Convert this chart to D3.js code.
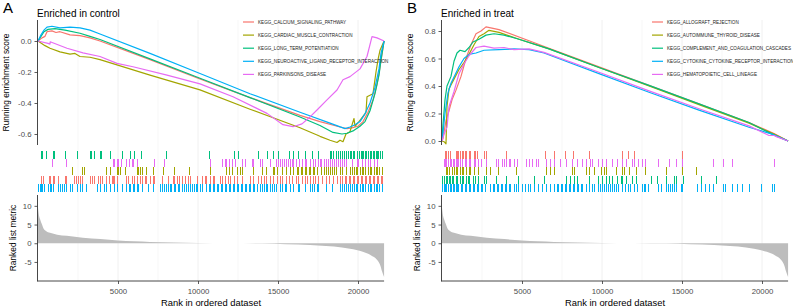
<!DOCTYPE html>
<html><head><meta charset="utf-8">
<script src="https://cdn.jsdelivr.net/npm/d3@7"></script>
<style>body{margin:0;background:#fff} svg{display:block} text{font-family:"Liberation Sans",Arial,Helvetica,sans-serif}</style>
</head><body>
<svg id="c" width="793" height="307"></svg>
<script>
// ---------- shared ----------
const rankMax = 21630;
const xTicks = [5000, 10000, 15000, 20000];
const gridRanks = [2500, 5000, 7500, 10000, 12500, 15000, 17500, 20000];
const metricTicks = [-5, 0, 5, 10];
const colors = ["#F8766D", "#A3A500", "#00BF7D", "#00B0F6", "#E76BF3"];

// ranked list metric (same ranked dataset in both panels)
const metricRank  = [1, 60, 125, 250, 330, 500, 750, 1200, 1800, 2800, 3900, 5000, 6000, 7000, 8500, 10000, 12000, 14000, 15500, 17000, 18500, 19500, 20300, 20800, 21200, 21400, 21500, 21630];
const metricValue = [9.5, 7.5, 6.5, 5, 4.1, 3.3, 2.8, 2.3, 2.0, 1.5, 1.1, 0.75, 0.5, 0.35, 0.2, 0.08, 0, -0.1, -0.25, -0.45, -0.9, -1.5, -2.3, -3.2, -4.5, -6, -7.5, -9];

// ---------- panel A : Enriched in control ----------
const aNames = ["KEGG_CALCIUM_SIGNALING_PATHWAY", "KEGG_CARDIAC_MUSCLE_CONTRACTION", "KEGG_LONG_TERM_POTENTIATION", "KEGG_NEUROACTIVE_LIGAND_RECEPTOR_INTERACTION", "KEGG_PARKINSONS_DISEASE"];
const aEsTicks = [-0.6, -0.4, -0.2, 0.0];
const aRugOrder = [2, 4, 1, 0, 3];

const aCalciumRank = [1, 250, 438, 562, 875, 1125, 1375, 2000, 2625, 3250, 3875, 7000, 10125, 13250, 16375, 17625, 18875, 19312, 19625, 20000, 20312, 20625, 20938, 21188, 21375, 21630];
const aCalciumES   = [0, 0.02, 0.03, 0.06, 0.065, 0.055, 0.06, 0.04, 0.035, 0.02, 0.0, -0.12, -0.245, -0.365, -0.48, -0.52, -0.555, -0.565, -0.56, -0.55, -0.52, -0.46, -0.38, -0.28, -0.17, 0.0];
const aCardiacRank = [1, 438, 750, 1375, 2000, 2312, 2625, 3250, 3875, 7000, 10125, 13250, 16375, 17625, 18250, 18688, 18875, 19062, 19250, 19500, 19750, 19812, 20062, 20500, 20562, 20938, 21125, 21250, 21375, 21630];
const aCardiacES   = [0, -0.03, -0.047, -0.07, -0.085, -0.08, -0.1, -0.105, -0.12, -0.22, -0.315, -0.44, -0.56, -0.615, -0.64, -0.655, -0.64, -0.65, -0.6, -0.585, -0.5, -0.55, -0.52, -0.46, -0.36, -0.34, -0.2, -0.12, -0.06, 0];
const aLongRank = [1, 188, 375, 625, 1062, 1688, 2625, 3250, 3875, 7000, 10125, 13250, 16375, 17625, 18438, 19000, 19312, 19688, 20125, 20438, 20750, 21062, 21312, 21438, 21630];
const aLongES   = [0, 0.03, 0.06, 0.075, 0.08, 0.07, 0.05, 0.03, 0.01, -0.115, -0.24, -0.365, -0.49, -0.545, -0.59, -0.6, -0.595, -0.58, -0.55, -0.52, -0.45, -0.34, -0.22, -0.12, 0];
const aNeuroRank = [1, 188, 375, 562, 875, 1375, 2000, 2625, 3250, 3875, 7000, 10125, 13250, 16375, 18250, 19188, 19500, 19812, 20125, 20438, 20750, 21062, 21312, 21438, 21630];
const aNeuroES   = [0, 0.04, 0.07, 0.09, 0.095, 0.085, 0.09, 0.085, 0.07, 0.045, -0.08, -0.21, -0.34, -0.46, -0.53, -0.565, -0.555, -0.54, -0.52, -0.47, -0.4, -0.3, -0.18, -0.08, 0];
const aParkRank = [1, 625, 750, 760, 1812, 2812, 3875, 4938, 5938, 8062, 10125, 12188, 14312, 15312, 15938, 16500, 17000, 17438, 18062, 18688, 19062, 19500, 20125, 20562, 20875, 21188, 21630];
const aParkES   = [0, -0.015, -0.02, -0.005, -0.047, -0.077, -0.1, -0.144, -0.166, -0.22, -0.277, -0.36, -0.467, -0.54, -0.553, -0.535, -0.49, -0.445, -0.38, -0.316, -0.25, -0.23, -0.18, -0.1, 0.028, 0.02, 0];

const aCalciumHits = [231, 331, 688, 812, 938, 1062, 1250, 1688, 1812, 2250, 2375, 2500, 2625, 2812, 3250, 3375, 3562, 3750, 3875, 4062, 4312, 4438, 4625, 4688, 4812, 4938, 5500, 5625, 5875, 6062, 6188, 6375, 6562, 6688, 6812, 7062, 7188, 7312, 7812, 8125, 8438, 8562, 8688, 8875, 9000, 9188, 9375, 9500, 9938, 10250, 10438, 10562, 10750, 10938, 11062, 11375, 11562, 11688, 11875, 12062, 12250, 12438, 12812, 13250, 13438, 13750, 13938, 14125, 14312, 14500, 14688, 14938, 15125, 15312, 15500, 15688, 15875, 16125, 16312, 16500, 16688, 16875, 17000, 17188, 17375, 17500, 17812, 18000, 18188, 18438, 18688, 18875, 19062, 19188, 19312, 19438, 19562, 19688, 19812, 19938, 20062, 20188, 20312, 20438, 20562, 20688, 20812, 20938, 21062, 21188, 21312, 21438, 21562];
const aCardiacHits = [2169, 2794, 2875, 4250, 4500, 4938, 5062, 5125, 5438, 6188, 6312, 6375, 6544, 6794, 7206, 7831, 8562, 9456, 10750, 11812, 11938, 12125, 12438, 12625, 12812, 13438, 14062, 14312, 14688, 14812, 14938, 15250, 15562, 15750, 15938, 16188, 16312, 16438, 16562, 16688, 16812, 16938, 17062, 17188, 17312, 17438, 17750, 17875, 18000, 18125, 18250, 18375, 18500, 18625, 18875, 19062, 19312, 19500, 19625, 19750, 19875, 20000, 20125, 20250, 20375, 20500, 20625, 20750, 20875, 21000, 21125, 21250, 21375, 21500];
const aLongHits = [188, 294, 544, 956, 1062, 1688, 2456, 3250, 3356, 3519, 3875, 3981, 4500, 5294, 5812, 6062, 6481, 8000, 10688, 12312, 12562, 13812, 14375, 14688, 15000, 15688, 15938, 16312, 16750, 17125, 17500, 18250, 18344, 18438, 18625, 18750, 18875, 19000, 19125, 19250, 19375, 19500, 19594, 19688, 19812, 19938, 20000, 20094, 20188, 20281, 20375, 20469, 20562, 20656, 20750, 20844, 20938, 21031, 21125, 21219, 21312, 21406, 21500];
const aNeuroHits = [31, 125, 219, 312, 406, 625, 750, 875, 1000, 1250, 1375, 1500, 1625, 1750, 2000, 2125, 2438, 2625, 2812, 3062, 3688, 3875, 4125, 4312, 4500, 4812, 5000, 5312, 5562, 5688, 5812, 5938, 6062, 6188, 6312, 6562, 6875, 7188, 7625, 7750, 7875, 8000, 8125, 8250, 8375, 8500, 8625, 8750, 8875, 9000, 9125, 9250, 9375, 9500, 9625, 9750, 9875, 10000, 10125, 10312, 10500, 10688, 10812, 10938, 11062, 11188, 11312, 11438, 11562, 11688, 11812, 11938, 12062, 12188, 12312, 12438, 12562, 12688, 12812, 12938, 13062, 13188, 13312, 13438, 13562, 13688, 13875, 14000, 14125, 14250, 14375, 14500, 14625, 14750, 14875, 15125, 15250, 15438, 15562, 15750, 16000, 16250, 16375, 16750, 17000, 17125, 17312, 17438, 17562, 18062, 18375, 18875, 19000, 19125, 19250, 19375, 19500, 19625, 19750, 19875, 20000, 20125, 20250, 20375, 20500, 20625, 20750, 20875, 21000, 21125, 21250, 21375, 21500];
const aParkHits = [919, 1794, 4688, 4812, 4938, 5062, 5188, 5562, 5688, 5875, 5938, 6231, 7250, 7894, 10750, 11562, 11688, 11812, 11938, 12125, 12375, 12750, 12938, 13375, 13500, 13875, 14062, 14500, 14875, 15000, 15125, 15250, 15375, 15500, 15625, 15750, 15875, 16000, 16125, 16375, 16500, 16688, 16812, 17000, 17188, 17375, 17500, 17625, 17750, 17875, 18000, 18125, 18250, 18375, 18500, 18625, 18750, 18875, 19000, 19125, 19312, 19625, 19938, 20062, 20250, 20438, 20625, 20812, 21000, 21250];

// ---------- panel B : Enriched in treat ----------
const bNames = ["KEGG_ALLOGRAFT_REJECTION", "KEGG_AUTOIMMUNE_THYROID_DISEASE", "KEGG_COMPLEMENT_AND_COAGULATION_CASCADES", "KEGG_CYTOKINE_CYTOKINE_RECEPTOR_INTERACTION", "KEGG_HEMATOPOIETIC_CELL_LINEAGE"];
const bEsTicks = [0.0, 0.2, 0.4, 0.6, 0.8];
const bRugOrder = [0, 4, 1, 2, 3];

const bAlloRank = [1, 62, 250, 438, 625, 875, 1188, 1500, 1812, 2125, 2438, 2750, 3562, 6688, 9812, 12938, 16062, 19188, 20750, 21630];
const bAlloES   = [0, 0.02, 0.15, 0.22, 0.3, 0.37, 0.47, 0.6, 0.7, 0.78, 0.8, 0.83, 0.81, 0.675, 0.54, 0.405, 0.27, 0.135, 0.055, 0];
const bAutoRank = [1, 125, 250, 312, 438, 750, 1062, 1375, 1688, 2000, 2312, 2625, 2938, 3562, 4812, 6688, 9812, 12938, 16062, 19188, 20750, 21630];
const bAutoES   = [0, -0.005, -0.02, 0.25, 0.38, 0.45, 0.52, 0.57, 0.63, 0.7, 0.76, 0.78, 0.805, 0.79, 0.74, 0.67, 0.535, 0.4, 0.265, 0.13, 0.05, 0];
const bCompRank = [1, 62, 188, 312, 562, 750, 938, 1125, 1438, 1688, 1938, 2312, 2750, 3250, 3875, 4812, 6688, 9812, 12938, 16062, 19188, 20625, 21630];
const bCompES   = [0, 0.12, 0.3, 0.4, 0.47, 0.58, 0.64, 0.66, 0.65, 0.68, 0.72, 0.74, 0.77, 0.78, 0.77, 0.74, 0.67, 0.535, 0.405, 0.27, 0.135, 0.05, 0];
const bCytoRank = [1, 62, 188, 375, 562, 812, 1062, 1375, 1688, 2125, 2625, 3562, 4500, 5438, 6375, 9812, 12938, 16062, 19188, 20625, 21630];
const bCytoES   = [0, 0.06, 0.2, 0.35, 0.42, 0.48, 0.54, 0.6, 0.63, 0.64, 0.66, 0.665, 0.67, 0.665, 0.64, 0.49, 0.355, 0.225, 0.1, 0.05, 0];
const bHemaRank = [1, 125, 312, 438, 750, 1062, 1375, 1688, 2125, 2625, 3250, 3875, 4500, 5438, 6375, 9812, 12938, 16062, 19188, 20438, 20750, 20938, 21630];
const bHemaES   = [0, 0.05, 0.1, 0.25, 0.36, 0.49, 0.56, 0.62, 0.68, 0.69, 0.675, 0.68, 0.665, 0.67, 0.645, 0.5, 0.365, 0.235, 0.11, 0.04, 0.04, 0.03, 0];

const bAlloHits = [231, 312, 406, 500, 875, 969, 1062, 1156, 1250, 1344, 1438, 1562, 1688, 1812, 2000, 2094, 2188, 2625, 2750, 4062, 6438, 7000, 7688, 8188, 9188, 11250, 11625, 12000, 15000];
const bAutoHits = [250, 344, 438, 625, 750, 875, 1000, 1125, 1250, 1375, 1500, 1688, 1812, 2000, 2312, 2750, 3062, 3562, 4625, 6500, 6812, 7000, 8125, 8250, 9000, 9188, 9500, 9938, 10125, 10312, 10875, 11250, 11375, 11688, 12125, 12750, 14062, 15000, 15875];
const bCompHits = [62, 156, 250, 344, 438, 531, 625, 719, 875, 1000, 1125, 1250, 1375, 1500, 1625, 1750, 1938, 2125, 2312, 2625, 2812, 3375, 4000, 4812, 5750, 6375, 7812, 8062, 8250, 8438, 9188, 9812, 10000, 10250, 10438, 10625, 10938, 11188, 11312, 11500, 11875, 12125, 13125, 13500, 14062, 14500, 14625, 15125, 16188, 17125];
const bCytoHits = [10, 31, 125, 219, 312, 406, 500, 594, 688, 781, 875, 969, 1062, 1188, 1312, 1438, 1562, 1688, 1812, 1938, 2062, 2188, 2312, 2438, 2562, 2688, 3062, 3188, 3312, 3438, 3562, 3688, 3812, 3938, 4062, 4188, 4312, 4500, 4625, 4750, 5062, 5188, 5375, 5562, 5812, 6000, 6312, 6500, 6812, 7000, 7188, 7312, 7438, 7562, 7688, 7812, 7938, 8062, 8188, 8312, 8438, 8562, 8688, 8812, 9000, 9188, 9375, 9562, 9750, 9875, 10000, 10125, 10250, 10375, 10500, 10625, 10750, 10875, 11000, 11312, 11438, 11625, 11750, 12062, 12188, 12500, 12625, 12750, 12875, 13562, 13688, 14000, 14125, 14250, 14375, 14500, 14625, 14938, 15062, 15938, 16188, 16438, 16688, 17000, 17625, 17750, 18125, 18438, 18750, 19188, 20000, 20625, 20812];
const bHemaHits = [125, 219, 312, 406, 500, 594, 688, 781, 875, 969, 1062, 1156, 1312, 1438, 1562, 1688, 1812, 2000, 2125, 2312, 2500, 2812, 3375, 3500, 3750, 3875, 4000, 4188, 4312, 4500, 4688, 5250, 5438, 5625, 5875, 6062, 6500, 6812, 7000, 7375, 7750, 8125, 8438, 8750, 9062, 9250, 9375, 9812, 10000, 10250, 10625, 10938, 11250, 11562, 11875, 12062, 12250, 12500, 12750, 13562, 14188, 14625, 15000, 17000, 17625, 18125, 20750];

// ---------- drawing ----------
const svg = d3.select("#c");
const fmt1 = d => d.toFixed(1);

function drawPanel(p) {
  const g = svg.append("g");
  const x = d3.scaleLinear().domain([0, rankMax]).range([p.x0, p.x1]);
  const yES = d3.scaleLinear().domain(p.esDomain).range([145, 20]);
  const yM = d3.scaleLinear().domain([-10.1, 12.9]).range([281, 195]);

  // vertical grid
  g.append("g").selectAll("line").data(gridRanks).join("line")
    .attr("x1", d => x(d)).attr("x2", d => x(d)).attr("y1", 20).attr("y2", 281)
    .attr("stroke", "#ececec").attr("stroke-width", d => d % 5000 === 0 ? 0.8 : 0.5);

  // metric area
  const mData = metricRank.map((r, i) => [r, metricValue[i]]);
  g.append("path").datum(mData)
    .attr("d", d3.area().x(d => x(d[0])).y0(yM(0)).y1(d => yM(d[1])).curve(d3.curveMonotoneX))
    .attr("fill", "#bdbdbd");

  // rug
  p.rugOrder.forEach((si, row) => {
    const y0 = Math.round(150.5 + row * 8.45);
    g.append("g").attr("shape-rendering", "crispEdges").selectAll("line").data(p.hits[si]).join("line")
      .attr("x1", d => Math.floor(x(d)) + 0.5).attr("x2", d => Math.floor(x(d)) + 0.5)
      .attr("y1", y0).attr("y2", y0 + 8)
      .attr("stroke", colors[si]).attr("stroke-width", 1);
  });

  // ES lines
  const line = d3.line().x(d => x(d[0])).y(d => yES(d[1]));
  p.ranks.forEach((rk, si) => {
    g.append("path").datum(rk.map((r, i) => [r, p.es[si][i]]))
      .attr("d", line).attr("fill", "none").attr("stroke", colors[si])
      .attr("stroke-width", 1.2).attr("stroke-linejoin", "round");
  });

  // axes
  const axES = g.append("g").attr("transform", `translate(${p.x0 - 0.5},0)`)
    .call(d3.axisLeft(yES).tickValues(p.esTicks).tickFormat(fmt1).tickSize(3).tickSizeOuter(0));
  axES.select(".domain").attr("d", "M0,20V145");
  const axM = g.append("g").attr("transform", `translate(${p.x0 - 0.5},0)`)
    .call(d3.axisLeft(yM).tickValues(metricTicks).tickFormat(d => String(d)).tickSize(3).tickSizeOuter(0));
  axM.select(".domain").attr("d", "M0,195V281.5");
  const axX = g.append("g").attr("transform", "translate(0,281)")
    .call(d3.axisBottom(x).tickValues(xTicks).tickFormat(d => String(d)).tickSize(3).tickSizeOuter(0));
  axX.select(".domain").attr("d", `M${p.x0 - 0.5},0H${p.x1}`);
  [axES, axM, axX].forEach(a => {
    a.selectAll(".domain").attr("stroke", "#333").attr("stroke-width", 0.9);
    a.selectAll(".tick line").attr("stroke", "#333").attr("stroke-width", 0.8);
    a.selectAll(".tick text").attr("fill", "#4d4d4d").style("font-size", "7.8px").style("font-family", "'Liberation Sans',Arial,sans-serif");
  });
  axX.selectAll(".tick text").attr("dy", "0.95em");

  // titles
  g.append("text").attr("x", p.x0 - 35).attr("y", 13.3).text(p.letter).style("font-size", "15px");
  g.append("text").attr("x", p.x0 - 1).attr("y", 16.5).text(p.title).style("font-size", "10px");
  g.append("text").attr("transform", `translate(${p.x0 - 29},82.5) rotate(-90)`).attr("text-anchor", "middle")
    .text("Running enrichment score").style("font-size", "8.4px");
  g.append("text").attr("transform", `translate(${p.x0 - 22},238) rotate(-90)`).attr("text-anchor", "middle")
    .text("Ranked list metric").style("font-size", "8.4px");
  g.append("text").attr("x", (p.x0 + p.x1) / 2).attr("y", 306).attr("text-anchor", "middle")
    .text("Rank in ordered dataset").style("font-size", "9.4px");

  // legend
  p.names.forEach((nm, i) => {
    const ly = 22 + i * 13.1;
    g.append("line").attr("x1", p.legX).attr("x2", p.legX + 11).attr("y1", ly).attr("y2", ly)
      .attr("stroke", colors[i]).attr("stroke-width", 1.2);
    g.append("text").attr("x", p.legX + 15).attr("y", ly + 1.7).text(nm)
      .style("font-size", "4.6px").attr("fill", "#222");
  });
}

drawPanel({
  letter: "A", title: "Enriched in control", x0: 38, x1: 38 + rankMax * 0.016,
  esDomain: [-0.671, 0.1355], esTicks: aEsTicks, names: aNames, legX: 243, rugOrder: aRugOrder,
  ranks: [aCalciumRank, aCardiacRank, aLongRank, aNeuroRank, aParkRank],
  es: [aCalciumES, aCardiacES, aLongES, aNeuroES, aParkES],
  hits: [aCalciumHits, aCardiacHits, aLongHits, aNeuroHits, aParkHits]
});
drawPanel({
  letter: "B", title: "Enriched in treat", x0: 442, x1: 442 + rankMax * 0.016,
  esDomain: [-0.029, 0.88], esTicks: bEsTicks, names: bNames, legX: 652, rugOrder: bRugOrder,
  ranks: [bAlloRank, bAutoRank, bCompRank, bCytoRank, bHemaRank],
  es: [bAlloES, bAutoES, bCompES, bCytoES, bHemaES],
  hits: [bAlloHits, bAutoHits, bCompHits, bCytoHits, bHemaHits]
});
</script></body></html>
